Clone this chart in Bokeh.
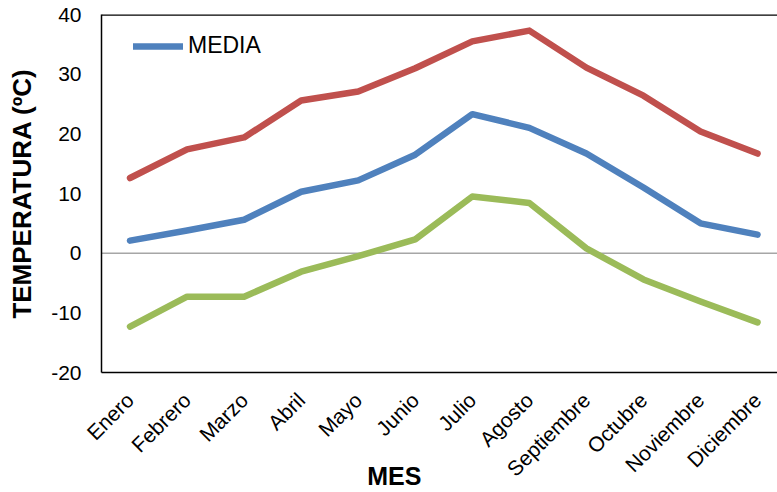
from math import pi
from bokeh.plotting import figure
from bokeh.models import Range1d, FixedTicker, Span, Legend, LegendItem
from bokeh.embed import file_html
from bokeh.resources import INLINE

meses = ["Enero", "Febrero", "Marzo", "Abril", "Mayo", "Junio", "Julio",
         "Agosto", "Septiembre", "Octubre", "Noviembre", "Diciembre"]
maxima = [12.6, 17.4, 19.4, 25.6, 27.1, 31.0, 35.5, 37.3, 31.1, 26.4, 20.4, 16.7]
media = [2.1, 3.8, 5.6, 10.3, 12.2, 16.5, 23.3, 21.0, 16.7, 11.0, 5.0, 3.1]
minima = [-12.3, -7.3, -7.3, -3.1, -0.5, 2.3, 9.5, 8.4, 0.8, -4.4, -8.1, -11.6]
y_ticks = [-20, -10, 0, 10, 20, 30, 40]

FONT = "Liberation Sans"
x = list(range(len(meses)))

p = figure(width=777, height=492, output_backend="svg", toolbar_location=None,
           x_range=Range1d(-0.5, 11.35), y_range=Range1d(-20, 40),
           min_border_left=101, min_border_right=0, min_border_top=14,
           min_border_bottom=119)
p.outline_line_color = None
p.xgrid.visible = False
p.ygrid.visible = False
p.background_fill_color = "white"
p.border_fill_color = "white"

# zero line
p.add_layout(Span(location=0, dimension="width", line_color="#A6A6A6",
                  line_width=1.5, level="underlay"))
# top border
p.add_layout(Span(location=40, dimension="width", line_color="black",
                  line_width=2.5))

p.line(x, maxima, line_color="#C0504D", line_width=6.5, line_cap="round", line_join="round")
r_media = p.line(x, media, line_color="#4F81BD", line_width=6.5, line_cap="round", line_join="round")
p.line(x, minima, line_color="#9BBB59", line_width=6.5, line_cap="round", line_join="round")

# y axis
ya = p.yaxis[0]
ya.ticker = FixedTicker(ticks=y_ticks)
ya.major_label_overrides = {t: str(t) for t in y_ticks}
ya.axis_line_color = "black"
ya.axis_line_width = 1.5
ya.major_tick_out = 0
ya.major_tick_in = 0
ya.minor_tick_out = 0
ya.minor_tick_in = 0
ya.major_label_standoff = 20
ya.major_label_text_font = FONT
ya.major_label_text_font_size = "21px"
ya.major_label_text_color = "black"
ya.axis_label = "TEMPERATURA (ºC)"
ya.axis_label_text_font = FONT
ya.axis_label_text_font_size = "26px"
ya.axis_label_text_font_style = "bold"
ya.axis_label_text_color = "black"
ya.axis_label_standoff = 11

# x axis
xa = p.xaxis[0]
xa.ticker = FixedTicker(ticks=x)
xa.major_label_overrides = {i: m for i, m in enumerate(meses)}
xa.major_label_orientation = pi / 4
xa.axis_line_color = "black"
xa.axis_line_width = 1.5
xa.major_tick_out = 0
xa.major_tick_in = 0
xa.minor_tick_out = 0
xa.minor_tick_in = 0
xa.major_label_standoff = 24
xa.major_label_text_font = FONT
xa.major_label_text_font_size = "21px"
xa.major_label_text_color = "black"
# title placed left of the frame centre, as in the reference
xa.axis_label = "MES" + "\u00a0" * 13
xa.axis_label_text_font = FONT
xa.axis_label_text_font_size = "25px"
xa.axis_label_text_font_style = "bold"
xa.axis_label_text_color = "black"
xa.axis_label_standoff = -30

legend = Legend(items=[LegendItem(label="MEDIA", renderers=[r_media])],
                location=(32, 313), border_line_color=None, background_fill_alpha=0,
                padding=0, margin=0, spacing=0, glyph_width=50, glyph_height=22,
                label_height=22, label_standoff=5, label_text_font=FONT,
                label_text_font_size="23px", label_text_color="black")
p.add_layout(legend)

open("out.html", "w").write(file_html(p, INLINE))
